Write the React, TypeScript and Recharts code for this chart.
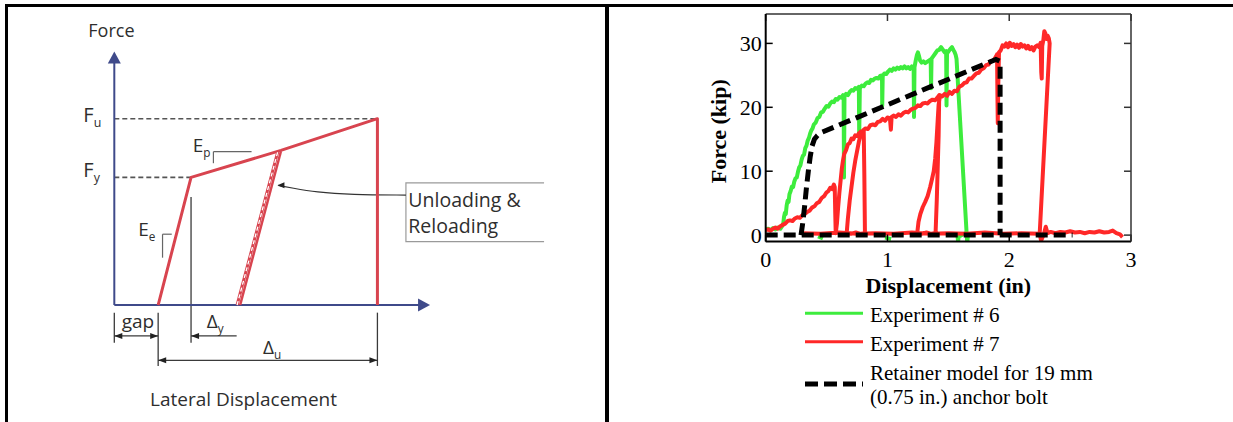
import React from 'react';
import {
  ComposedChart,
  Line,
  XAxis,
  YAxis,
  ReferenceLine,
  ReferenceArea,
  Scatter,
  Legend,
} from 'recharts';

type Pt = [number, number];
type Row = { x: number; y: number | null };

/* ------------------------------------------------------------------ */
/* Left panel: idealised retainer backbone (schematic units)           */
/* displacement in multiples of the gap, force normalised by Fu        */
/* ------------------------------------------------------------------ */
const GAP = 1.0;
const DELTA_Y = 1.75; // displacement at yield
const DELTA_U = 6.0; // displacement at ultimate
const FORCE_Y = 0.685;
const FORCE_U = 1.0;

const backbone: Pt[] = [
  [GAP, 0],
  [DELTA_Y, FORCE_Y],
  [3.8, 0.83],
  [DELTA_U, FORCE_U],
  [DELTA_U, 0],
];
const unloadReload: Pt[] = [
  [2.8, 0],
  [3.73, 0.825],
];
const calloutCurve: Pt[] = [
  [6.65, 0.59],
  [5.4, 0.592],
  [4.6, 0.605],
  [4.05, 0.628],
  [3.74, 0.642],
];

const schematicNotes = [
  { x: -0.593, y: 1.437, main: 'Force', size: 18 },
  { x: -0.707, y: 0.984, main: 'F', sub: 'u', size: 20 },
  { x: -0.707, y: 0.689, main: 'F', sub: 'y', size: 20 },
  { x: 1.788, y: 0.823, main: 'E', sub: 'p', size: 19 },
  { x: 0.547, y: 0.37, main: 'E', sub: 'e', size: 19 },
  { x: 0.169, y: -0.122, main: 'gap', size: 19 },
  { x: 2.107, y: -0.123, main: 'Δ', sub: 'y', size: 19 },
  { x: 3.39, y: -0.265, main: 'Δ', sub: 'u', size: 19 },
  { x: 0.814, y: -0.542, main: 'Lateral Displacement', size: 19 },
  { x: 6.705, y: 0.528, main: 'Unloading &', size: 19.5 },
  { x: 6.705, y: 0.385, main: 'Reloading', size: 19.5 },
];

const schematicArrows = [
  { x: 0, y: 1.36, dir: 'up', len: 12, half: 6.5, color: '#3f4a8a' },
  { x: 7.2, y: 0, dir: 'right', len: 12, half: 6.5, color: '#3f4a8a' },
  { x: 0, y: -0.166, dir: 'left', len: 8, half: 3, color: '#222' },
  { x: GAP, y: -0.166, dir: 'right', len: 8, half: 3, color: '#222' },
  { x: DELTA_Y, y: -0.166, dir: 'left', len: 8, half: 3, color: '#222' },
  { x: GAP, y: -0.297, dir: 'left', len: 8, half: 3, color: '#222' },
  { x: DELTA_U, y: -0.297, dir: 'right', len: 8, half: 3, color: '#222' },
  { x: 3.72, y: 0.643, dir: 'left', len: 7, half: 3, color: '#222' },
];

/* ------------------------------------------------------------------ */
/* Right panel: measured force (kip) vs displacement (in)              */
/* ------------------------------------------------------------------ */
const exp6Trace: Pt[] = [
  [0, 0.9], [0.02, 1.0], [0.04, 0.8], [0.06, 1.1], [0.08, 0.9], [0.1, 1.2], [0.12, 1.0],
  [0.135, 1.4], [0.145, 1.9], [0.15, 2.8], [0.158, 3.5], [0.165, 3.3], [0.172, 4.6],
  [0.18, 5.4], [0.188, 5.2], [0.195, 6.4], [0.205, 6.9], [0.215, 7.6], [0.225, 7.5],
  [0.235, 8.4], [0.245, 8.9], [0.255, 9.0], [0.265, 9.9], [0.275, 10.6], [0.285, 10.9],
  [0.295, 11.8], [0.305, 12.4], [0.315, 12.6], [0.325, 13.6], [0.335, 14.0], [0.345, 14.8],
  [0.355, 15.2], [0.365, 15.9], [0.375, 16.4], [0.385, 16.7], [0.395, 17.3], [0.41, 17.6],
  [0.425, 18.3], [0.44, 18.5], [0.455, 19.2], [0.47, 19.3], [0.485, 19.8], [0.5, 20.2],
  [0.515, 20.1], [0.53, 20.6], [0.545, 20.9], [0.56, 20.8], [0.575, 21.3], [0.59, 21.2],
  [0.605, 21.6], [0.62, 21.5], [0.635, 21.9],
  [0.64, 21.6], [0.643, 9.0], [0.647, 21.7],
  [0.66, 22.1], [0.675, 21.9], [0.69, 22.4], [0.705, 22.7], [0.72, 22.6], [0.735, 23.0],
  [0.75, 22.9], [0.765, 23.2],
  [0.768, 15.3], [0.773, 23.0],
  [0.79, 23.4], [0.805, 23.3], [0.82, 23.7], [0.835, 23.9], [0.85, 23.8], [0.865, 24.3],
  [0.88, 24.2], [0.895, 24.5], [0.91, 24.6], [0.925, 24.5], [0.94, 24.9], [0.955, 25.0],
  [0.957, 20.3], [0.961, 24.9],
  [0.975, 25.3], [0.99, 25.2], [1.005, 25.6], [1.02, 25.9], [1.035, 25.7], [1.05, 26.1],
  [1.065, 25.9], [1.08, 26.2], [1.095, 26.0], [1.11, 26.3], [1.125, 26.1], [1.14, 26.4],
  [1.155, 26.1], [1.17, 26.3], [1.185, 26.0], [1.2, 26.4], [1.215, 26.2],
  [1.218, 18.5], [1.222, 26.3],
  [1.232, 27.3], [1.242, 28.2], [1.25, 28.6], [1.258, 28.1], [1.268, 27.3], [1.28, 27.0],
  [1.295, 27.2], [1.31, 26.9], [1.325, 27.1], [1.34, 27.3], [1.355, 27.5],
  [1.358, 23.0], [1.362, 27.6],
  [1.38, 28.1], [1.395, 28.5], [1.41, 28.9], [1.425, 29.0], [1.44, 29.4], [1.455, 29.0],
  [1.47, 28.6], [1.482, 28.8],
  [1.485, 20.3], [1.489, 28.5],
  [1.5, 28.7], [1.515, 29.1], [1.53, 29.4], [1.54, 29.0], [1.55, 28.7], [1.56, 28.2],
  [1.567, 27.6],
  [1.65, 0.3], [1.655, -1.2], [1.662, 0.1], [1.63, 0.2], [1.6, -0.1], [1.585, 0.1],
  [1.58, -1.1], [1.575, 0.0], [1.55, 0.2],
];
const exp6Rest1: Pt[] = [[0.43, -0.2], [0.47, -0.5]];
const exp6Rest2: Pt[] = [[0.98, -0.4], [1.03, -0.6]];

const exp7Trace: Pt[] = [
  [0, 0.8], [0.02, 0.9], [0.04, 0.7], [0.06, 1.0], [0.08, 1.2], [0.1, 1.0], [0.12, 1.4],
  [0.14, 1.6], [0.16, 1.8], [0.18, 2.2], [0.2, 2.3], [0.22, 2.2], [0.24, 2.6], [0.26, 2.8],
  [0.28, 2.7], [0.3, 3.1], [0.32, 3.3], [0.34, 3.6], [0.36, 3.8], [0.38, 4.3], [0.4, 4.5],
  [0.42, 5.0], [0.44, 5.2], [0.46, 5.8], [0.48, 6.1], [0.5, 6.7], [0.515, 6.9], [0.53, 7.4],
  [0.545, 7.2], [0.56, 7.9], [0.567, 7.5],
  [0.571, 3.5], [0.575, 0.3],
  [0.585, 1.8], [0.595, 4.4], [0.605, 6.6], [0.615, 8.5], [0.625, 10.4], [0.635, 11.7],
  [0.645, 12.7], [0.66, 13.3], [0.675, 14.2], [0.69, 14.4], [0.705, 15.1], [0.72, 15.0],
  [0.735, 15.6], [0.75, 15.5], [0.765, 15.9], [0.78, 16.2], [0.795, 16.0], [0.805, 16.4],
  [0.81, 9.5], [0.815, 0.3],
  [0.78, 0.2], [0.74, 0.4], [0.7, 0.2], [0.665, 0.3],
  [0.675, 2.6], [0.69, 5.4], [0.705, 7.6], [0.72, 9.8], [0.735, 11.6], [0.75, 13.1],
  [0.765, 14.6], [0.78, 15.7], [0.8, 16.4],
  [0.82, 16.7], [0.84, 16.6], [0.86, 17.2], [0.88, 17.3], [0.9, 17.2], [0.92, 17.7],
  [0.94, 17.8], [0.96, 18.2], [0.98, 17.9], [1.0, 18.4], [1.02, 18.3], [1.028, 16.5],
  [1.034, 18.5], [1.05, 18.7], [1.07, 18.5], [1.09, 18.9], [1.11, 18.7], [1.13, 19.1],
  [1.15, 19.3], [1.17, 19.2], [1.19, 19.6], [1.21, 19.8], [1.23, 19.9], [1.25, 20.3],
  [1.27, 20.2], [1.29, 20.6], [1.31, 20.7], [1.33, 20.6], [1.35, 21.0], [1.37, 21.2],
  [1.39, 21.1], [1.41, 21.5], [1.425, 21.9],
  [1.42, 15.5], [1.405, 5.5], [1.395, 0.3],
  [1.36, 0.2], [1.32, 0.4], [1.28, 0.2], [1.245, 0.4],
  [1.255, 2.1], [1.27, 3.3], [1.29, 4.4], [1.31, 5.2], [1.33, 6.1], [1.35, 7.5],
  [1.365, 8.7], [1.38, 10.0], [1.392, 12.0], [1.402, 14.5], [1.412, 17.8], [1.42, 20.4],
  [1.432, 21.9],
  [1.45, 21.7], [1.47, 22.1], [1.49, 21.8], [1.51, 22.4], [1.53, 22.1], [1.55, 22.6],
  [1.57, 22.5], [1.59, 23.2], [1.61, 23.4], [1.63, 23.8], [1.65, 23.9], [1.67, 24.5],
  [1.69, 24.5], [1.71, 24.9], [1.73, 25.3], [1.75, 25.4], [1.77, 25.9], [1.79, 26.1],
  [1.81, 26.6], [1.83, 26.7], [1.85, 27.2], [1.87, 27.3], [1.89, 27.9], [1.9, 28.3],
  [1.903, 22.0], [1.906, 17.5], [1.91, 23.5], [1.916, 28.6],
  [1.93, 28.9], [1.945, 29.7], [1.96, 29.5], [1.975, 30.0], [1.99, 29.4], [2.005, 30.1],
  [2.02, 29.6], [2.035, 29.9], [2.05, 29.4], [2.065, 29.8], [2.08, 29.3], [2.095, 29.9],
  [2.11, 29.5], [2.125, 29.7], [2.14, 29.2], [2.155, 29.6], [2.17, 29.1], [2.185, 29.4],
  [2.2, 28.9], [2.215, 29.5], [2.23, 29.7], [2.245, 29.4], [2.258, 30.1],
  [2.263, 25.5], [2.267, 24.5], [2.271, 29.6],
  [2.28, 30.5], [2.288, 31.9], [2.296, 31.6], [2.305, 30.7], [2.315, 31.2], [2.325, 30.8],
  [2.332, 30.0],
  [2.25, 0.2], [2.262, -0.9], [2.285, 0.2], [2.3, 1.3], [2.315, 0.3], [2.34, 0.5],
  [2.38, 0.3], [2.42, 0.5], [2.46, 0.4], [2.5, 0.6], [2.54, 0.4], [2.58, 0.5], [2.62, 0.3],
  [2.66, 0.5], [2.7, 0.4], [2.74, 0.6], [2.78, 0.4], [2.82, 0.5], [2.85, 0.7], [2.88, 0.3],
  [2.91, 0.1], [2.93, -0.3],
];
const exp7Rest: Pt[] = [
  [0.3, 0.3], [0.45, 0.2], [0.6, 0.4], [0.75, 0.2], [0.9, 0.3], [1.05, 0.2], [1.2, 0.4],
  [1.35, 0.2], [1.5, 0.3], [1.65, 0.2], [1.8, 0.4], [1.95, 0.2], [2.1, 0.3], [2.25, 0.2],
];

const modelBase: Pt[] = [[0, 0], [2.52, 0]];
const modelLoad: Pt[] = [
  [0.29, 0], [0.305, 2.0], [0.32, 4.6], [0.335, 7.5], [0.35, 10.0], [0.365, 12.2],
  [0.38, 13.9], [0.4, 15.0], [0.425, 15.6], [0.45, 16.0], [1.89, 27.5], [1.925, 27.2],
  [1.925, 0],
];

const xTicks = [0, 1, 2, 3];
const yTicks = [0, 10, 20, 30];
const X_DOMAIN: [number, number] = [0, 3];
const Y_DOMAIN: [number, number] = [-1, 34.6];

const legendLines = [
  ['Experiment # 6'],
  ['Experiment # 7'],
  ['Retainer model for 19 mm', '(0.75 in.) anchor bolt'],
];
const seriesColors = ['#3dec3d', '#ff2828', '#000000'];

// join several traces into one series, breaking the line between them
const toRows = (...segments: Pt[][]): Row[] =>
  segments.flatMap((seg, i) => {
    const rows: Row[] = seg.map(([x, y]) => ({ x, y }));
    return i === 0 ? rows : [{ x: seg[0][0], y: null }, ...rows];
  });

const exp6Rows = toRows(exp6Trace, exp6Rest1, exp6Rest2);
const exp7Rows = toRows(exp7Trace, exp7Rest);
const modelRows = toRows(modelBase, modelLoad);

const SANS = "'Open Sans', 'Noto Sans', sans-serif";
const SERIF = "'Liberation Serif', 'Times New Roman', serif";
const AXIS_BLUE = '#3f4a8a';
const CURVE_RED = '#d8444f';
const DIM = '#3a3a3a';

const NoteText = (props: any) => {
  const { cx, cy, payload } = props;
  return (
    <text x={cx} y={cy} fontFamily={SANS} fontSize={payload.size} fill="#2e2e2e">
      {payload.main}
      {payload.sub ? (
        <tspan dy={5} fontSize={payload.size * 0.62}>
          {payload.sub}
        </tspan>
      ) : null}
    </text>
  );
};

const ARROW_ANGLE: Record<string, number> = { up: -90, down: 90, left: 180, right: 0 };
const ArrowHead = (props: any) => {
  const { cx, cy, payload } = props;
  const { len, half, color, dir } = payload;
  return (
    <polygon
      points={`0,0 ${-len},${-half} ${-len},${half}`}
      transform={`translate(${cx},${cy}) rotate(${ARROW_ANGLE[dir]})`}
      fill={color}
    />
  );
};

const CalloutBox = (props: any) => {
  const { x, y, width, height } = props;
  return (
    <g>
      <rect x={x} y={y} width={width} height={height} fill="#fff" stroke="none" />
      <path
        d={`M${x + width},${y} H${x} V${y + height} H${x + width}`}
        fill="none"
        stroke="#9a9a9a"
        strokeWidth={1.2}
      />
    </g>
  );
};

// the frame's top and right edges carry tick marks only
const NoLabel = () => <g />;

// vertical axis title, centred a little below the plot's mid-height
const ForceTitle = (props: any) => {
  const vb = props.viewBox || {};
  const x = (vb.x ?? 85.7) + 12.6;
  const y = (vb.y ?? 13) + (vb.height ?? 228) / 2 + 3.5;
  return (
    <text
      x={x}
      y={y}
      transform={`rotate(-90, ${x}, ${y})`}
      textAnchor="middle"
      dominantBaseline="central"
      fontFamily={SERIF}
      fontSize={22}
      fontWeight={700}
      fill="#000"
    >
      Force (kip)
    </text>
  );
};

const rowsOf = (pts: Pt[]) => pts.map(([x, y]) => ({ x, y }));

const seg = (a: Pt, b: Pt) => [
  { x: a[0], y: a[1] },
  { x: b[0], y: b[1] },
];

const SchematicPanel = () => (
  <ComposedChart
    width={610}
    height={422}
    margin={{ top: 16.2, right: 48.4, bottom: 5.2, left: 26.6 }}
  >
    <XAxis type="number" dataKey="x" domain={[-2, 10.2]} allowDataOverflow hide />
    <YAxis type="number" dataKey="y" domain={[-0.6, 1.55]} allowDataOverflow hide />

    <ReferenceArea
      x1={6.65}
      x2={9.8}
      y1={0.34}
      y2={0.656}
      ifOverflow="visible"
      shape={<CalloutBox />}
    />

    {/* yield and ultimate force levels */}
    <ReferenceLine segment={seg([0, FORCE_U], [DELTA_U, FORCE_U])} stroke="#555" strokeWidth={1.6} strokeDasharray="5 3" ifOverflow="visible" />
    <ReferenceLine segment={seg([0, FORCE_Y], [DELTA_Y, FORCE_Y])} stroke="#555" strokeWidth={1.6} strokeDasharray="5 3" ifOverflow="visible" />

    {/* dimension extension lines */}
    <ReferenceLine segment={seg([0, -0.041], [0, -0.202])} stroke={DIM} strokeWidth={1.3} ifOverflow="visible" />
    <ReferenceLine segment={seg([GAP, -0.041], [GAP, -0.327])} stroke={DIM} strokeWidth={1.3} ifOverflow="visible" />
    <ReferenceLine segment={seg([DELTA_Y, 0.58], [DELTA_Y, -0.202])} stroke={DIM} strokeWidth={1.3} ifOverflow="visible" />
    <ReferenceLine segment={seg([DELTA_U, -0.041], [DELTA_U, -0.327])} stroke={DIM} strokeWidth={1.3} ifOverflow="visible" />
    <ReferenceLine segment={seg([0, -0.166], [GAP, -0.166])} stroke={DIM} strokeWidth={1.3} ifOverflow="visible" />
    <ReferenceLine segment={seg([DELTA_Y, -0.166], [2.79, -0.166])} stroke={DIM} strokeWidth={1.3} ifOverflow="visible" />
    <ReferenceLine segment={seg([GAP, -0.297], [DELTA_U, -0.297])} stroke={DIM} strokeWidth={1.3} ifOverflow="visible" />

    {/* stiffness markers */}
    <ReferenceLine segment={seg([2.26, 0.823], [2.26, 0.761])} stroke="#666" strokeWidth={1.2} ifOverflow="visible" />
    <ReferenceLine segment={seg([2.26, 0.823], [3.13, 0.823])} stroke="#666" strokeWidth={1.2} ifOverflow="visible" />
    <ReferenceLine segment={seg([1.1, 0.38], [1.1, 0.254])} stroke="#666" strokeWidth={1.2} ifOverflow="visible" />
    <ReferenceLine segment={seg([1.1, 0.38], [1.31, 0.38])} stroke="#666" strokeWidth={1.2} ifOverflow="visible" />

    {/* coordinate axes */}
    <ReferenceLine segment={seg([0, 0], [0, 1.3])} stroke={AXIS_BLUE} strokeWidth={2} ifOverflow="visible" />
    <ReferenceLine segment={seg([0, 0], [6.95, 0])} stroke={AXIS_BLUE} strokeWidth={2} ifOverflow="visible" />

    <Line
      data={rowsOf(calloutCurve)}
      dataKey="y"
      type="basis"
      stroke="#333"
      strokeWidth={1.2}
      dot={false}
      isAnimationActive={false}
    />
    <Line
      data={rowsOf(backbone)}
      dataKey="y"
      type="linear"
      stroke={CURVE_RED}
      strokeWidth={3}
      strokeLinejoin="round"
      dot={false}
      isAnimationActive={false}
    />
    <Line
      data={rowsOf(unloadReload).map((r) => ({ x: r.x + 0.07, y: r.y }))}
      dataKey="y"
      type="linear"
      stroke={CURVE_RED}
      strokeWidth={2.5}
      dot={false}
      isAnimationActive={false}
    />
    <Line
      data={rowsOf(unloadReload)}
      dataKey="y"
      type="linear"
      stroke={CURVE_RED}
      strokeWidth={3}
      dot={false}
      isAnimationActive={false}
    />
    <Line
      data={rowsOf(unloadReload)}
      dataKey="y"
      type="linear"
      stroke="#fff"
      strokeWidth={1.3}
      strokeDasharray="4 3"
      dot={false}
      isAnimationActive={false}
    />

    <Scatter data={schematicArrows} dataKey="y" shape={<ArrowHead />} isAnimationActive={false} />
    <Scatter data={schematicNotes} dataKey="y" shape={<NoteText />} isAnimationActive={false} />
  </ComposedChart>
);

const LegendBlock = () => (
  <svg width={330} height={120} style={{ overflow: 'visible', display: 'block' }}>
    {legendLines.map((lines, i) => {
      const lineY = [18.3, 46.7, 89][i];
      const base = [26.7, 55.7, 85][i];
      return (
        <g key={i}>
          <line
            x1={5}
            x2={63}
            y1={lineY}
            y2={lineY}
            stroke={seriesColors[i]}
            strokeWidth={i === 2 ? 5 : 3}
            strokeDasharray={i === 2 ? '13 6' : undefined}
          />
          {lines.map((t, j) => (
            <text key={j} x={70} y={base + j * 24} fontFamily={SERIF} fontSize={21} fill="#000">
              {t}
            </text>
          ))}
        </g>
      );
    })}
  </svg>
);

const tickStyle = { fontFamily: SERIF, fontSize: 22, fill: '#000' };
const titleStyle = { fontFamily: SERIF, fontSize: 22, fontWeight: 700, fill: '#000' };

const MeasuredPanel = () => (
  <ComposedChart
    width={613}
    height={422}
    margin={{ top: 13, right: 101, bottom: 150.5, left: 85.7 }}
  >
    <XAxis
      type="number"
      dataKey="x"
      domain={X_DOMAIN}
      ticks={xTicks}
      interval={0}
      allowDataOverflow
      height={30}
      tickSize={-7}
      tickMargin={16.5}
      tick={tickStyle}
      axisLine={{ stroke: '#000', strokeWidth: 2 }}
      tickLine={{ stroke: '#000', strokeWidth: 1.5 }}
      label={{ value: 'Displacement (in)', position: 'bottom', offset: 6, style: titleStyle }}
    />
    <XAxis
      xAxisId="top"
      orientation="top"
      type="number"
      dataKey="x"
      domain={X_DOMAIN}
      ticks={xTicks}
      interval={0}
      allowDataOverflow
      height={1}
      tickSize={-7}
      tickMargin={0}
      tick={<NoLabel />}
      axisLine={{ stroke: '#333', strokeWidth: 1.5 }}
      tickLine={{ stroke: '#333', strokeWidth: 1.5 }}
    />
    <YAxis
      type="number"
      dataKey="y"
      domain={Y_DOMAIN}
      ticks={yTicks}
      interval={0}
      allowDataOverflow
      width={60}
      tickSize={-7}
      tickMargin={11}
      tick={tickStyle}
      axisLine={{ stroke: '#000', strokeWidth: 2 }}
      tickLine={{ stroke: '#000', strokeWidth: 1.5 }}
      label={{ content: <ForceTitle /> }}
    />
    <YAxis
      yAxisId="right"
      orientation="right"
      type="number"
      dataKey="y"
      domain={Y_DOMAIN}
      ticks={yTicks}
      interval={0}
      allowDataOverflow
      width={1}
      tickSize={-7}
      tickMargin={0}
      tick={<NoLabel />}
      axisLine={{ stroke: '#333', strokeWidth: 1.5 }}
      tickLine={{ stroke: '#333', strokeWidth: 1.5 }}
    />

    <Line
      name={legendLines[0].join(' ')}
      data={exp6Rows}
      dataKey="y"
      type="linear"
      stroke={seriesColors[0]}
      strokeWidth={4}
      strokeLinejoin="round"
      dot={false}
      isAnimationActive={false}
    />
    <Line
      name={legendLines[1].join(' ')}
      data={exp7Rows}
      dataKey="y"
      type="linear"
      stroke={seriesColors[1]}
      strokeWidth={4}
      strokeLinejoin="round"
      dot={false}
      isAnimationActive={false}
    />
    <Line
      name={legendLines[2].join(' ')}
      data={modelRows}
      dataKey="y"
      type="linear"
      stroke={seriesColors[2]}
      strokeWidth={5}
      strokeDasharray="12 6"
      dot={false}
      isAnimationActive={false}
    />

    <Legend
      layout="horizontal"
      verticalAlign="middle"
      align="center"
      content={() => <LegendBlock />}
      wrapperStyle={{ position: 'absolute', left: 180, top: 295, width: 330, height: 120 }}
    />
  </ComposedChart>
);

export default function App() {
  return (
    <div
      style={{
        position: 'absolute',
        left: 0,
        top: 0,
        width: 1233,
        height: 422,
        background: '#fff',
        overflow: 'hidden',
      }}
    >
      <div style={{ position: 'absolute', left: 0, top: 0 }}>
        <SchematicPanel />
      </div>
      <div style={{ position: 'absolute', left: 620, top: 0 }}>
        <MeasuredPanel />
      </div>
      {/* table frame */}
      <div style={{ position: 'absolute', left: 5, top: 4, width: 1228, height: 3, background: '#000' }} />
      <div style={{ position: 'absolute', left: 5, top: 4, width: 2.5, height: 418, background: '#000' }} />
      <div style={{ position: 'absolute', left: 605, top: 4, width: 3.5, height: 418, background: '#000' }} />
    </div>
  );
}
